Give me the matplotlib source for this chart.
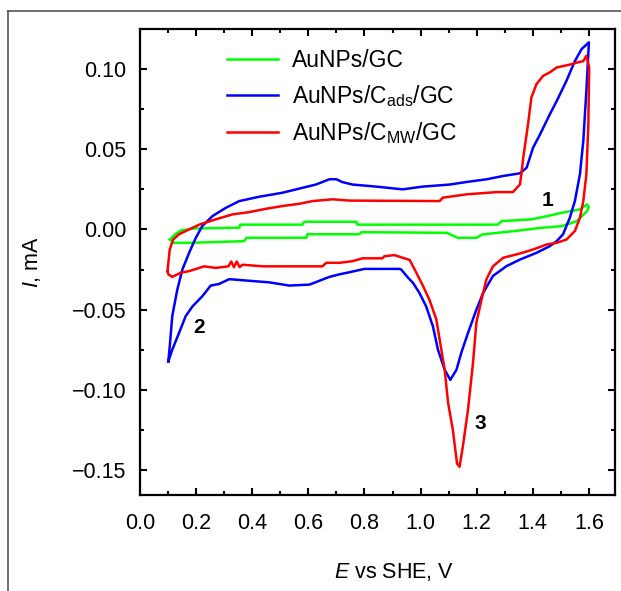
import numpy as np
import matplotlib
matplotlib.use("Agg")
import matplotlib.pyplot as plt
from matplotlib.lines import Line2D

plt.rcParams['font.family'] = ['Liberation Sans', 'DejaVu Sans']
plt.rcParams['mathtext.fontset'] = 'custom'
plt.rcParams['mathtext.rm'] = 'Liberation Sans'
plt.rcParams['mathtext.it'] = 'Liberation Sans:italic'
plt.rcParams['mathtext.bf'] = 'Liberation Sans:bold'

# AuNPs/GC (green), one closed cycle: anodic then cathodic
E_green = [0.107, 0.125, 0.146, 0.193, 0.354, 0.357, 0.579, 0.586, 0.771, 0.775,
           1.275, 1.289, 1.396, 1.450, 1.504, 1.568, 1.593, 1.600,
           1.593, 1.557, 1.504, 1.436, 1.329, 1.221, 1.200, 1.132, 1.093,
           0.789, 0.782, 0.596, 0.593, 0.379, 0.371, 0.186, 0.121, 0.107]
I_green = [-0.0063, -0.0030, -0.0006, 0.0006, 0.0011, 0.0030, 0.0030, 0.0048, 0.0048, 0.0030,
           0.0030, 0.0052, 0.0063, 0.0083, 0.0104, 0.0125, 0.0156, 0.0140,
           0.0114, 0.0052, 0.0021, 0.0011, -0.0011, -0.0031, -0.0052, -0.0052, -0.0021,
           -0.0017, -0.0030, -0.0030, -0.0052, -0.0052, -0.0073, -0.0083, -0.0083, -0.0063]

# AuNPs/Cads/GC (blue)
E_blue = [0.101, 0.106, 0.115, 0.133, 0.151, 0.175, 0.199, 0.222, 0.258, 0.306, 0.354,
          0.425, 0.508, 0.580, 0.627, 0.675, 0.700, 0.720, 0.757, 0.843, 0.936, 1.007,
          1.104, 1.164, 1.236, 1.293, 1.354, 1.378, 1.401, 1.425, 1.461, 1.485, 1.520,
          1.550, 1.574, 1.600,
          1.591, 1.580, 1.568, 1.550, 1.532, 1.508, 1.485, 1.461, 1.413, 1.354, 1.306,
          1.258, 1.223, 1.199, 1.169, 1.145, 1.128, 1.106, 1.086, 1.062, 1.044, 1.020,
          0.996, 0.973, 0.955, 0.931, 0.925, 0.800, 0.746, 0.711, 0.675, 0.604, 0.532,
          0.461, 0.318, 0.282, 0.252, 0.222, 0.187, 0.163, 0.139, 0.115, 0.101]
I_blue = [-0.0823, -0.0730, -0.0540, -0.0375, -0.0250, -0.0146, -0.0052, 0.0021, 0.0083, 0.0135, 0.0177,
          0.0204, 0.0229, 0.0260, 0.0280, 0.0313, 0.0313, 0.0296, 0.0280, 0.0267, 0.0250, 0.0267,
          0.0280, 0.0296, 0.0313, 0.0333, 0.0350, 0.0385, 0.0510, 0.0590, 0.0719, 0.0800, 0.0927,
          0.1050, 0.1125, 0.1167,
          0.0865, 0.0552, 0.0344, 0.0177, 0.0073, -0.0030, -0.0073, -0.0104, -0.0146, -0.0188, -0.0229,
          -0.0290, -0.0396, -0.0500, -0.0646, -0.0770, -0.0875, -0.0938, -0.0875, -0.0750, -0.0604, -0.0480,
          -0.0396, -0.0333, -0.0300, -0.0250, -0.0246, -0.0246, -0.0267, -0.0280, -0.0296, -0.0344, -0.0350,
          -0.0330, -0.0310, -0.0340, -0.0350, -0.0417, -0.0480, -0.0540, -0.0646, -0.0750, -0.0823]

# AuNPs/CMW/GC (red)
E_red = [0.098, 0.106, 0.118, 0.139, 0.175, 0.211, 0.270, 0.330, 0.389, 0.449, 0.508,
         0.568, 0.615, 0.687, 0.746, 1.068, 1.079, 1.164, 1.271, 1.329, 1.354, 1.360,
         1.366, 1.383, 1.395, 1.413, 1.437, 1.461, 1.485, 1.532, 1.556, 1.580, 1.591, 1.601,
         1.598, 1.591, 1.580, 1.568, 1.550, 1.520, 1.485, 1.449, 1.401, 1.354, 1.294,
         1.258, 1.235, 1.217, 1.199, 1.187, 1.169, 1.151, 1.139, 1.130, 1.115, 1.098,
         1.086, 1.074, 1.056, 1.032, 1.008, 0.985, 0.961, 0.937, 0.907, 0.871, 0.864,
         0.793, 0.757, 0.711, 0.664, 0.650, 0.437, 0.365, 0.355, 0.345, 0.335, 0.325,
         0.315, 0.270, 0.229, 0.175, 0.145, 0.115, 0.101, 0.098]
I_red = [-0.0260, -0.0125, -0.0063, -0.0030, 0.0000, 0.0030, 0.0063, 0.0094, 0.0108, 0.0129, 0.0146,
         0.0160, 0.0177, 0.0188, 0.0180, 0.0177, 0.0198, 0.0219, 0.0233, 0.0233, 0.0280, 0.0354,
         0.0448, 0.0656, 0.0823, 0.0906, 0.0958, 0.0980, 0.1010, 0.1028, 0.1040, 0.1050, 0.1083, 0.1010,
         0.0656, 0.0344, 0.0177, 0.0073, -0.0010, -0.0063, -0.0083, -0.0094, -0.0125, -0.0150, -0.0177,
         -0.0230, -0.0310, -0.0440, -0.0580, -0.0830, -0.1125, -0.1350, -0.1480, -0.1460, -0.1250, -0.1080,
         -0.0875, -0.0750, -0.0560, -0.0440, -0.0350, -0.0270, -0.0190, -0.0177, -0.0160, -0.0167, -0.0180,
         -0.0180, -0.0198, -0.0208, -0.0208, -0.0230, -0.0230, -0.0220, -0.0235, -0.0200, -0.0235, -0.0200,
         -0.0230, -0.0240, -0.0230, -0.0260, -0.0270, -0.0296, -0.0280, -0.0260]

labels = ['AuNPs/GC', 'AuNPs/C$_{\\mathrm{ads}}$/GC', 'AuNPs/C$_{\\mathrm{MW}}$/GC']
colors = ['#00ff00', '#0000ff', '#ff0000']

peak_labels = ['1', '2', '3']
peak_pos = [(1.454, 0.018), (0.211, -0.061), (1.214, -0.121)]

fig = plt.figure(figsize=(6.21, 5.91), dpi=100)
ax = fig.add_axes([140 / 621, 96 / 591, 475 / 621, 466 / 591])

ax.plot(E_green, I_green, color=colors[0], lw=1.8, label=labels[0])
ax.plot(E_blue, I_blue, color=colors[1], lw=1.8, label=labels[1])
ax.plot(E_red, I_red, color=colors[2], lw=1.8, label=labels[2])

for t, (x, y) in zip(peak_labels, peak_pos):
    ax.text(x, y, t, fontsize=15, fontweight='bold', ha='center', va='center')

ax.set_xlim(0, 1.693)
ax.set_ylim(-0.1656, 0.125)
ax.set_xticks(np.arange(0, 1.61, 0.2))
ax.set_xticks(np.arange(0.1, 1.7, 0.2), minor=True)
ax.set_yticks([-0.15, -0.10, -0.05, 0.0, 0.05, 0.10])
ax.set_yticks(np.arange(-0.125, 0.125, 0.05), minor=True)
ax.set_xticklabels(['%.1f' % v for v in np.arange(0, 1.61, 0.2)])
ax.set_yticklabels(['\u22120.15', '\u22120.10', '\u22120.05', '0.00', '0.05', '0.10'])
ax.tick_params(which='both', direction='in', top=True, right=True, width=1.5,
               labelsize=15.5)
ax.tick_params(axis='x', pad=13)
ax.tick_params(axis='y', pad=10)
ax.tick_params(which='major', length=5)
ax.tick_params(which='minor', length=3)
for s in ax.spines.values():
    s.set_linewidth(1.6)

ax.set_xlabel('$\\mathit{E}$ vs SHE, V', fontsize=15.5)
ax.set_ylabel('$\\mathit{I}$, mA', fontsize=15.5)
ax.xaxis.set_label_coords(0.535, -0.142)
ax.yaxis.set_label_coords(-0.205, 0.5)

ax.legend(loc='upper left', bbox_to_anchor=(0.14, 1.002), frameon=False, fontsize=16.5,
          handlelength=2.2, handletextpad=0.65, labelspacing=0.5)

# outer frame around the figure
fy = 1 - 11 / 591
fx = 7.5 / 621
fig.add_artist(Line2D([fx, fx], [0, fy], color='#555555', lw=1.2))
fig.add_artist(Line2D([fx, 1], [fy, fy], color='#555555', lw=1.2))

fig.savefig('out.png', dpi=100)
